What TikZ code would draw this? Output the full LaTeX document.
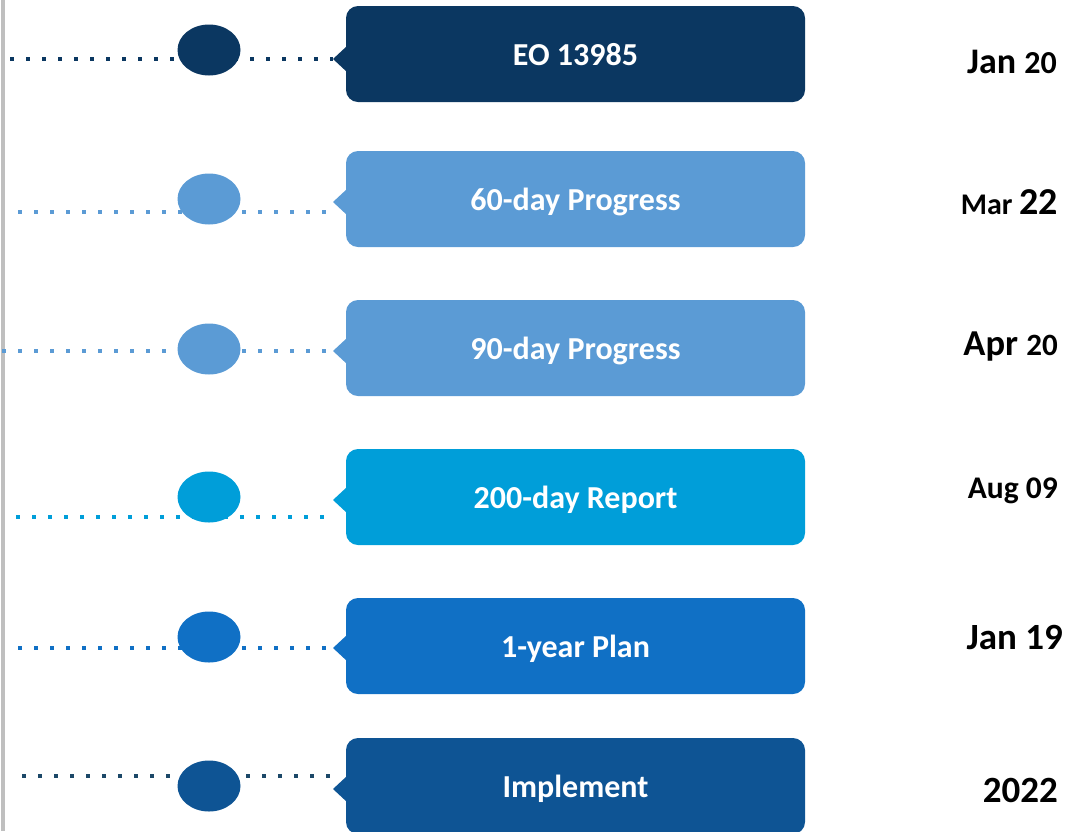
\documentclass[tikz,border=0pt]{standalone}
\usepackage{fontspec}
\setmainfont{Carlito}
\usepackage{xcolor}
\usepackage{tikz}
\usetikzlibrary{positioning, shapes.geometric}

\definecolor{navy}{RGB}{11,55,97}
\definecolor{skyblue}{RGB}{91,155,213}
\definecolor{cyanblue}{RGB}{0,158,217}
\definecolor{midblue}{RGB}{16,112,197}
\definecolor{deepblue}{RGB}{14,84,148}
\definecolor{slate}{RGB}{28,72,104}

\begin{document}
\begin{tikzpicture}[
x=1pt, y=-1pt,
box/.style={
rectangle,
rounded corners=12pt,
minimum width=459pt,
minimum height=96pt,
inner sep=0pt,
text height=28pt,
text depth=6pt,
text=white,
font=\bfseries\fontsize{32}{34}\selectfont
},
dot/.style={
ellipse,
minimum width=63pt,
minimum height=51pt,
inner sep=0pt
},
dots/.style={
line width=3.5pt,
dash pattern=on 3.5pt off 12.5pt
},
date/.style={
anchor=base east,
inner sep=0pt,
text=black,
font=\bfseries
}
]

\useasboundingbox (0,0) rectangle (1066,831);

% left axis
\draw[black!25, line width=4pt] (3,0) -- (3,831);

% start and tip points
\coordinate (s1) at (10,59);   \coordinate (t1) at (333,59);
\coordinate (s2) at (18,212);  \coordinate (t2) at (333,202);
\coordinate (s3) at (2,351);   \coordinate (t3) at (333,351);
\coordinate (s4) at (16,517);  \coordinate (t4) at (333,500);
\coordinate (s5) at (18,648);  \coordinate (t5) at (333,648);
\coordinate (s6) at (22,776);  \coordinate (t6) at (333,789);

\draw[dots, navy] (s1) -- (s1 -| t1);
\draw[dots, skyblue] (s2) -- (s2 -| t2);
\draw[dots, skyblue] (s3) -- (s3 -| t3);
\draw[dots, cyanblue] (s4) -- (s4 -| t4);
\draw[dots, midblue] (s5) -- (s5 -| t5);
\draw[dots, slate] (s6) -- (s6 -| t6);

\node[dot, fill=navy] (e1) at (209,50) {};
\node[dot, fill=skyblue] (e2) at (209,199) {};
\node[dot, fill=skyblue] (e3) at (209,349) {};
\node[dot, fill=cyanblue] (e4) at (209,497) {};
\node[dot, fill=midblue] (e5) at (209,637) {};
\node[dot, fill=deepblue] (e6) at (209,786) {};

\fill[navy] (t1) -- ++(14,-13) -- ++(0,26) -- cycle;
\fill[skyblue] (t2) -- ++(14,-13) -- ++(0,26) -- cycle;
\fill[skyblue] (t3) -- ++(14,-13) -- ++(0,26) -- cycle;
\fill[cyanblue] (t4) -- ++(14,-13) -- ++(0,26) -- cycle;
\fill[midblue] (t5) -- ++(14,-13) -- ++(0,26) -- cycle;
\fill[deepblue] (t6) -- ++(14,-13) -- ++(0,26) -- cycle;

\node[box, fill=navy] (b1) at (575.5,54) {EO 13985};
\node[box, fill=skyblue] (b2) at (575.5,199) {60-day Progress};
\node[box, fill=skyblue] (b3) at (575.5,348) {90-day Progress};
\node[box, fill=cyanblue] (b4) at (575.5,497) {200-day Report};
\node[box, fill=midblue] (b5) at (575.5,646) {1-year Plan};
\node[box, fill=deepblue] (b6) at (575.5,786) {Implement};

\node[date] (d1) at (1057,73)
{\fontsize{36}{38}\selectfont Jan \fontsize{32}{34}\selectfont 20};
\node[date] (d2) at (1058,214)
{\fontsize{30}{32}\selectfont Mar \fontsize{38}{40}\selectfont 22};
\node[date] (d3) at (1058,355)
{\fontsize{36.5}{38}\selectfont Apr \fontsize{31}{33}\selectfont 20};
\node[date] (d4) at (1058,498)
{\fontsize{31.5}{33}\selectfont Aug 09};
\node[date] (d5) at (1063,649)
{\fontsize{37}{39}\selectfont Jan 19};
\node[date] (d6) at (1058,802)
{\fontsize{37}{40}\selectfont 2022};

\end{tikzpicture}
\end{document}
